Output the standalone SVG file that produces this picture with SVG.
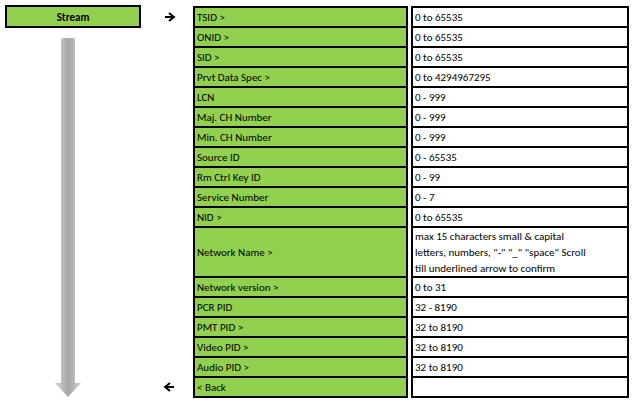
<svg xmlns="http://www.w3.org/2000/svg" width="634" height="410" viewBox="0 0 634 410">
<style>
.g{fill:#92d050;stroke:#000;stroke-width:2}
.w{fill:#fff;stroke:#000;stroke-width:2}
text{font-family:Calibri,"Liberation Sans",sans-serif;font-size:11px;fill:#000}
</style>
<defs><linearGradient id="sh" x1="0" x2="1"><stop offset="0" stop-color="#d8d8d8"/><stop offset="0.5" stop-color="#a6a6a6"/><stop offset="1" stop-color="#d0d0d0"/></linearGradient></defs>
<rect width="634" height="410" fill="#fff"/>
<g id="stream"><rect class="g" x="6" y="6" width="134" height="21" stroke-width="3"/><text x="73" y="21" text-anchor="middle" font-weight="bold" font-size="12">Stream</text></g>
<g id="connectors">
<path d="M61 40 Q61 38 63 38 L73 38 Q75 38 75 40 L75 383 L81 383 L68 397 L55 383 L61 383 Z" fill="url(#sh)"/>
<path d="M165 17 H173 M169 13 L174 17 L169 21" stroke="#000" stroke-width="2" fill="none"/>
<path d="M174 387 H166 M170 383 L165 387 L170 391" stroke="#000" stroke-width="2" fill="none"/>
</g>
<g id="rows">
<rect class="g" x="194" y="7" width="213" height="20"/><rect class="w" x="412" y="7" width="216" height="20"/><text x="197" y="21">TSID &gt;</text><text x="415" y="21">0 to 65535</text>
<rect class="g" x="194" y="27" width="213" height="20"/><rect class="w" x="412" y="27" width="216" height="20"/><text x="197" y="41">ONID &gt;</text><text x="415" y="41">0 to 65535</text>
<rect class="g" x="194" y="47" width="213" height="20"/><rect class="w" x="412" y="47" width="216" height="20"/><text x="197" y="61">SID &gt;</text><text x="415" y="61">0 to 65535</text>
<rect class="g" x="194" y="67" width="213" height="20"/><rect class="w" x="412" y="67" width="216" height="20"/><text x="197" y="81">Prvt Data Spec &gt;</text><text x="415" y="81">0 to 4294967295</text>
<rect class="g" x="194" y="87" width="213" height="20"/><rect class="w" x="412" y="87" width="216" height="20"/><text x="197" y="101">LCN</text><text x="415" y="101">0 - 999</text>
<rect class="g" x="194" y="107" width="213" height="20"/><rect class="w" x="412" y="107" width="216" height="20"/><text x="197" y="121">Maj. CH Number</text><text x="415" y="121">0 - 999</text>
<rect class="g" x="194" y="127" width="213" height="20"/><rect class="w" x="412" y="127" width="216" height="20"/><text x="197" y="141">Min. CH Number</text><text x="415" y="141">0 - 999</text>
<rect class="g" x="194" y="147" width="213" height="20"/><rect class="w" x="412" y="147" width="216" height="20"/><text x="197" y="161">Source ID</text><text x="415" y="161">0 - 65535</text>
<rect class="g" x="194" y="167" width="213" height="20"/><rect class="w" x="412" y="167" width="216" height="20"/><text x="197" y="181">Rm Ctrl Key ID</text><text x="415" y="181">0 - 99</text>
<rect class="g" x="194" y="187" width="213" height="20"/><rect class="w" x="412" y="187" width="216" height="20"/><text x="197" y="201">Service Number</text><text x="415" y="201">0 - 7</text>
<rect class="g" x="194" y="207" width="213" height="20"/><rect class="w" x="412" y="207" width="216" height="20"/><text x="197" y="221">NID &gt;</text><text x="415" y="221">0 to 65535</text>
<rect class="g" x="194" y="227" width="213" height="50"/><rect class="w" x="412" y="227" width="216" height="50"/><text x="197" y="256">Network Name &gt;</text><text x="415" y="240">max 15 characters small &amp; capital</text><text x="415" y="256">letters, numbers, "-" "_" "space" Scroll</text><text x="415" y="272">till underlined arrow to confirm</text>
<rect class="g" x="194" y="277" width="213" height="20"/><rect class="w" x="412" y="277" width="216" height="20"/><text x="197" y="291">Network version &gt;</text><text x="415" y="291">0 to 31</text>
<rect class="g" x="194" y="297" width="213" height="20"/><rect class="w" x="412" y="297" width="216" height="20"/><text x="197" y="311">PCR PID</text><text x="415" y="311">32 - 8190</text>
<rect class="g" x="194" y="317" width="213" height="20"/><rect class="w" x="412" y="317" width="216" height="20"/><text x="197" y="331">PMT PID &gt;</text><text x="415" y="331">32 to 8190</text>
<rect class="g" x="194" y="337" width="213" height="20"/><rect class="w" x="412" y="337" width="216" height="20"/><text x="197" y="351">Video PID &gt;</text><text x="415" y="351">32 to 8190</text>
<rect class="g" x="194" y="357" width="213" height="20"/><rect class="w" x="412" y="357" width="216" height="20"/><text x="197" y="371">Audio PID &gt;</text><text x="415" y="371">32 to 8190</text>
<rect class="g" x="194" y="377" width="213" height="20"/><rect class="w" x="412" y="377" width="216" height="20"/><text x="197" y="391">&lt; Back</text>
</g>
</svg>
